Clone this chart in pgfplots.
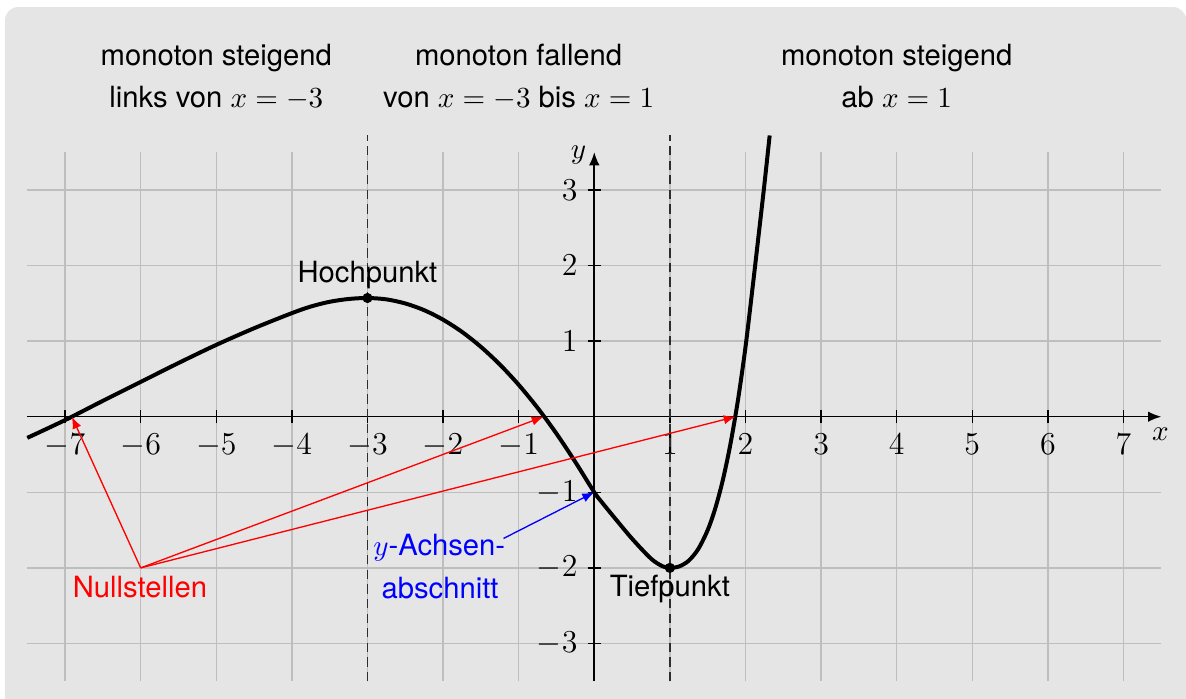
\documentclass[border=0pt]{standalone}
\usepackage{pgfplots}
\pgfplotsset{compat=1.18}
\usepackage{fontspec}
\setmainfont{TeX Gyre Heros}
\usetikzlibrary{arrows.meta}
\definecolor{panel}{RGB}{229,229,229}
\definecolor{gridc}{RGB}{190,190,190}
\definecolor{dashc}{RGB}{45,45,45}

\begin{document}
\fontsize{11}{13}\selectfont
\begin{tikzpicture}
% grey panel behind the coordinate system
\fill[panel, rounded corners=5pt] (-7.795,-3.9) rectangle (7.83,5.419);
\begin{axis}[
  at={(0,0)}, anchor=origin,
  x=1cm, y=1cm,
  xmin=-7.5, xmax=7.5, ymin=-3.5, ymax=3.5,
  axis lines=middle,
  axis line style={line width=0.6pt, -{Latex[length=5pt,width=4pt]}},
  xtick={-7,-6,-5,-4,-3,-2,-1,1,2,3,4,5,6,7},
  ytick={-3,-2,-1,1,2,3},
  grid=major,
  major grid style={gridc, line width=0.5pt},
  tick align=center,
  major tick length=5pt,
  tick style={black, line width=0.5pt},
  tick label style={font=\fontsize{11.5}{14}\selectfont},
  clip=false,
]
% vertical lines through the extrema
\addplot[dashc, line width=0.7pt, dash pattern=on 3.5pt off 2pt] coordinates {(-3,-3.5) (-3,3.72)};
\addplot[dashc, line width=0.7pt, dash pattern=on 3.5pt off 2pt] coordinates {(1,-3.5) (1,3.72)};

% graph of f
\addplot[black, line width=1.5pt, smooth, tension=0.5] coordinates {
  (-7.5,-0.28) (-7,-0.045) (-6.5,0.21) (-6,0.46) (-5.5,0.71) (-5,0.95)
  (-4.5,1.17) (-4,1.37) (-3.75,1.457) (-3.5,1.52) (-3.25,1.557) (-3,1.57)
  (-2.75,1.552) (-2.5,1.498) (-2.25,1.409) (-2,1.283) (-1.75,1.122)
  (-1.5,0.924) (-1.25,0.691) (-1,0.422) (-0.75,0.117) (-0.5,-0.224)
  (-0.25,-0.600) (0,-1) (0.1,-1.131) (0.25,-1.315) (0.5,-1.614)
  (0.75,-1.877) (0.9,-1.977) (1,-2) (1.125,-1.98) (1.25,-1.904)
  (1.375,-1.751) (1.5,-1.5) (1.6,-1.214) (1.7,-0.84) (1.8,-0.367)
  (1.9,0.216) (2,0.92) (2.1,1.76) (2.2,2.63) (2.25,3.07) (2.32,3.72)
};

% high and low point
\addplot[only marks, mark=*, mark size=1.7pt, black] coordinates {(-3,1.57) (1,-2)};

% monotonicity notes
\node[anchor=base] at (axis cs:-5,4.652) {monoton steigend};
\node[anchor=base] at (axis cs:-5,4.093) {links von $x=-3$};
\node[anchor=base] at (axis cs:-1,4.652) {monoton fallend};
\node[anchor=base] at (axis cs:-1,4.093) {von $x=-3$ bis $x=1$};
\node[anchor=base] at (axis cs:4,4.652) {monoton steigend};
\node[anchor=base] at (axis cs:4,4.093) {ab $x=1$};

% point labels
\node[anchor=base] at (axis cs:-3,1.772) {Hochpunkt};
\node[anchor=base] at (axis cs:1,-2.38) {Tiefpunkt};

% zeros
\node[anchor=base, red] at (axis cs:-6.01,-2.39) {Nullstellen};
\draw[red, line width=0.5pt, -{Latex[length=4.5pt,width=3.5pt]}] (axis cs:-6,-2) -- (axis cs:-6.91,0);
\draw[red, line width=0.5pt, -{Latex[length=4.5pt,width=3.5pt]}] (axis cs:-6,-2) -- (axis cs:-0.67,0);
\draw[red, line width=0.5pt, -{Latex[length=4.5pt,width=3.5pt]}] (axis cs:-6,-2) -- (axis cs:1.87,0);

% y-intercept
\node[anchor=base, blue] at (axis cs:-2.05,-1.84) {$y$-Achsen-};
\node[anchor=base, blue] at (axis cs:-2.04,-2.40) {abschnitt};
\draw[blue, line width=0.5pt, -{Latex[length=4.5pt,width=3.5pt]}] (axis cs:-1.2,-1.61) -- (axis cs:0,-1);

% axis names
\node[anchor=base] at (axis cs:7.49,-0.31) {$x$};
\node[anchor=base] at (axis cs:-0.21,3.42) {$y$};
\end{axis}
\pgfresetboundingbox
\useasboundingbox (-7.861,-3.734) rectangle (7.827,5.512);
\end{tikzpicture}
\end{document}
